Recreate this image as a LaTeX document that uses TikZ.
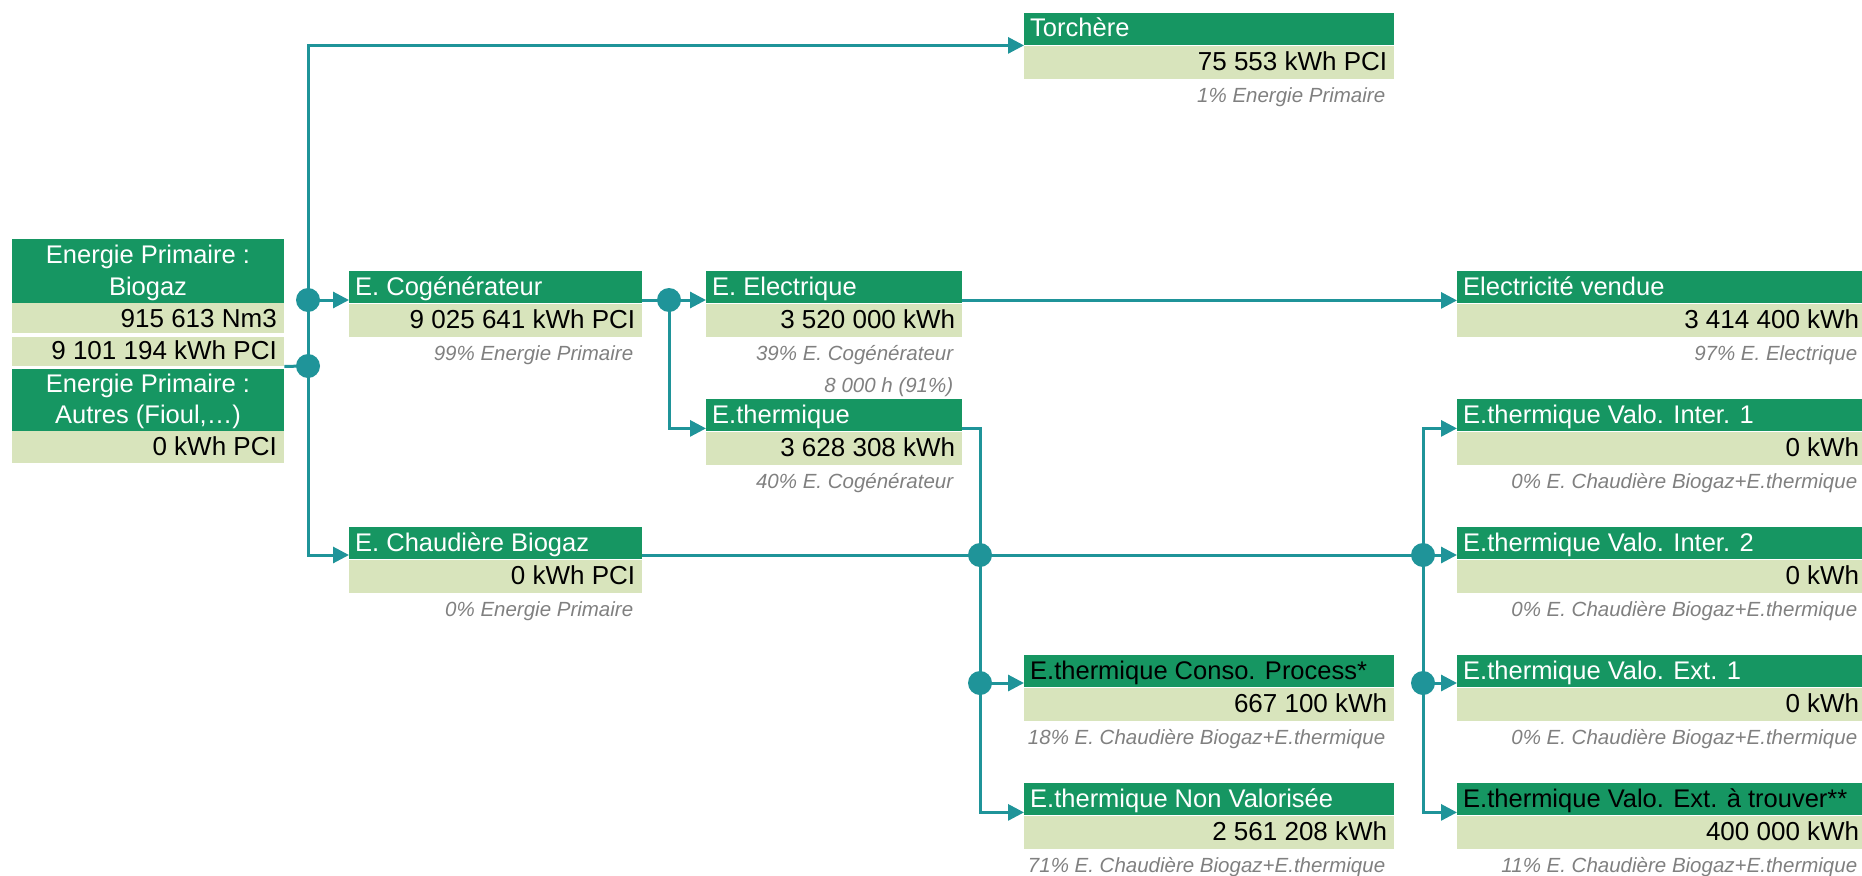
\documentclass[tikz,border=0pt]{standalone}
\usepackage{fontspec}
\setmainfont{Liberation Sans}
\usetikzlibrary{arrows.meta}
\definecolor{hdrgreen}{RGB}{22,150,98}
\definecolor{valgreen}{RGB}{216,228,188}
\definecolor{flowteal}{RGB}{31,148,153}
\definecolor{subgray}{RGB}{128,128,128}
\newcommand\myhfont{\fontsize{25.5}{30}\selectfont}
\newcommand\myvfont{\fontsize{26}{30}\selectfont}
\newcommand\mysfont{\fontsize{20.5}{24}\selectfont\itshape}
% name, x, top, width, title, value, subtitle, title colour
\newcommand\enbox[8]{%
  \node[hdr, minimum width=#4pt, anchor=north west] (#1h) at (#2,#3) {};
  \node[val, minimum width=#4pt, anchor=north west] (#1v) at (#1h.south west) {};
  \node[htxt, text=#8, anchor=base west] (#1ht) at ([xshift=6pt, yshift=-24pt]#1h.north west) {#5};
  \node[vtxt, anchor=base east] (#1vt) at ([xshift=-7pt, yshift=-25pt]#1v.north east) {#6};
  \node[stxt, anchor=base east] (#1st) at ([xshift=-9pt, yshift=-24pt]#1v.south east) {#7};
}
\begin{document}
\begin{tikzpicture}[x=1pt, y=-1pt,
  hdr/.style={fill=hdrgreen, draw=none, inner sep=0pt, minimum height=32pt},
  val/.style={fill=valgreen, draw=none, inner sep=0pt, minimum height=33pt},
  htxt/.style={text=white, font=\myhfont, inner sep=0pt},
  vtxt/.style={text=black, font=\myvfont, inner sep=0pt},
  stxt/.style={text=subgray, font=\mysfont, inner sep=0pt},
  flow/.style={draw=flowteal, line width=3pt},
  arr/.style={flow, -{Triangle[length=16pt, width=16pt]}},
  dot/.style={circle, fill=flowteal, draw=none, inner sep=0pt, minimum size=24pt}]
\useasboundingbox (0,0) rectangle (1862,875);
\clip (0,0) rectangle (1862,875);

% Energie primaire : Biogaz
\node[hdr, minimum width=272pt, minimum height=64pt, anchor=north west] (bioh) at (12,239) {};
\node[val, minimum width=272pt, minimum height=30pt, anchor=north west] (biov) at (12,303) {};
\node[val, minimum width=272pt, minimum height=29pt, anchor=north west] (bior2) at (12,337) {};
\node[htxt, anchor=base] (biot1) at (148,263) {Energie Primaire :};
\node[htxt, anchor=base] (biot2) at (148,295) {Biogaz};
\node[vtxt, anchor=base east] (biovt) at (277,327) {915 613 Nm3};
\node[vtxt, anchor=base east] (bior2t) at (277,359) {9 101 194 kWh PCI};

% Energie primaire : Autres
\node[hdr, minimum width=272pt, minimum height=62pt, anchor=north west] (auth) at (12,369) {};
\node[val, minimum width=272pt, minimum height=32pt, anchor=north west] (autv) at (12,431) {};
\node[htxt, anchor=base] (autt1) at (148,392) {Energie Primaire :};
\node[htxt, anchor=base] (autt2) at (148,423) {Autres (Fioul,…)};
\node[vtxt, anchor=base east] (autvt) at (277,455) {0 kWh PCI};

% boxes
\enbox{torch}{1024}{13}{370}{Torchère}{75 553 kWh PCI}{1\% Energie Primaire}{white}
\enbox{cog}{349}{271}{293}{E. Cogénérateur}{9 025 641 kWh PCI}{99\% Energie Primaire}{white}
\enbox{chaud}{349}{527}{293}{E. Chaudière Biogaz}{0 kWh PCI}{0\% Energie Primaire}{white}
\enbox{elec}{706}{271}{256}{E. Electrique}{3 520 000 kWh}{39\% E. Cogénérateur}{white}
\node[stxt, anchor=base east] (elecst2) at ([yshift=-32pt]elecst.base east) {8 000 h (91\%)};
\enbox{therm}{706}{399}{256}{E.thermique}{3 628 308 kWh}{40\% E. Cogénérateur}{white}
\enbox{conso}{1024}{655}{370}{E.thermique Conso. Process*}{667 100 kWh}{18\% E. Chaudière Biogaz+E.thermique}{black}
\enbox{nonval}{1024}{783}{370}{E.thermique Non Valorisée}{2 561 208 kWh}{71\% E. Chaudière Biogaz+E.thermique}{white}
\enbox{vendue}{1457}{271}{409}{Electricité vendue}{3 414 400 kWh}{97\% E. Electrique}{white}
\enbox{inter1}{1457}{399}{409}{E.thermique Valo. Inter. 1}{0 kWh}{0\% E. Chaudière Biogaz+E.thermique}{white}
\enbox{inter2}{1457}{527}{409}{E.thermique Valo. Inter. 2}{0 kWh}{0\% E. Chaudière Biogaz+E.thermique}{white}
\enbox{ext1}{1457}{655}{409}{E.thermique Valo. Ext. 1}{0 kWh}{0\% E. Chaudière Biogaz+E.thermique}{white}
\enbox{ext2}{1457}{783}{409}{E.thermique Valo. Ext. à trouver**}{400 000 kWh}{11\% E. Chaudière Biogaz+E.thermique}{black}

% junctions
\coordinate (j1) at (308,300);
\coordinate (j2) at (308,366);
\coordinate (j3) at (669,300);
\coordinate (j4) at (980,555);
\coordinate (j5) at (980,683);
\coordinate (j6) at (1423,555);
\coordinate (j7) at (1423,683);

% connectors
\draw[arr] (j1) |- (torchh.south west);
\draw[arr] (j1) -- (j1 -| cogh.west);
\draw[flow] (j1) -- (j2);
\draw[flow] (bior2.south east) -- (j2);
\draw[arr] (j2) |- (chaudh.west |- j4);
\draw[flow] (cogh.east |- j3) -- (j3);
\draw[arr] (j3) -- (j3 -| elech.west);
\draw[arr] (j3) |- ([yshift=3pt]thermh.south west);
\draw[arr] ([yshift=3pt]elech.south east) -- ([yshift=3pt]vendueh.south west);
\draw[flow] ([yshift=3pt]thermh.south east) -| (j4);
\draw[flow] (chaudh.east |- j4) -- (j4) -- (j6);
\draw[flow] (j4) -- (j5);
\draw[arr] (j5) -- (j5 -| consoh.west);
\draw[arr] (j5) |- ([yshift=3pt]nonvalh.south west);
\draw[arr] (j6) |- ([yshift=3pt]inter1h.south west);
\draw[arr] (j6) -- (j6 -| inter2h.west);
\draw[flow] (j6) -- (j7);
\draw[arr] (j7) -- (j7 -| ext1h.west);
\draw[arr] (j7) |- ([yshift=3pt]ext2h.south west);

% dots
\node[dot] (d1) at (j1) {};
\node[dot] (d2) at (j2) {};
\node[dot] (d3) at (j3) {};
\node[dot] (d4) at (j4) {};
\node[dot] (d5) at (j5) {};
\node[dot] (d6) at (j6) {};
\node[dot] (d7) at (j7) {};
\end{tikzpicture}
\end{document}
